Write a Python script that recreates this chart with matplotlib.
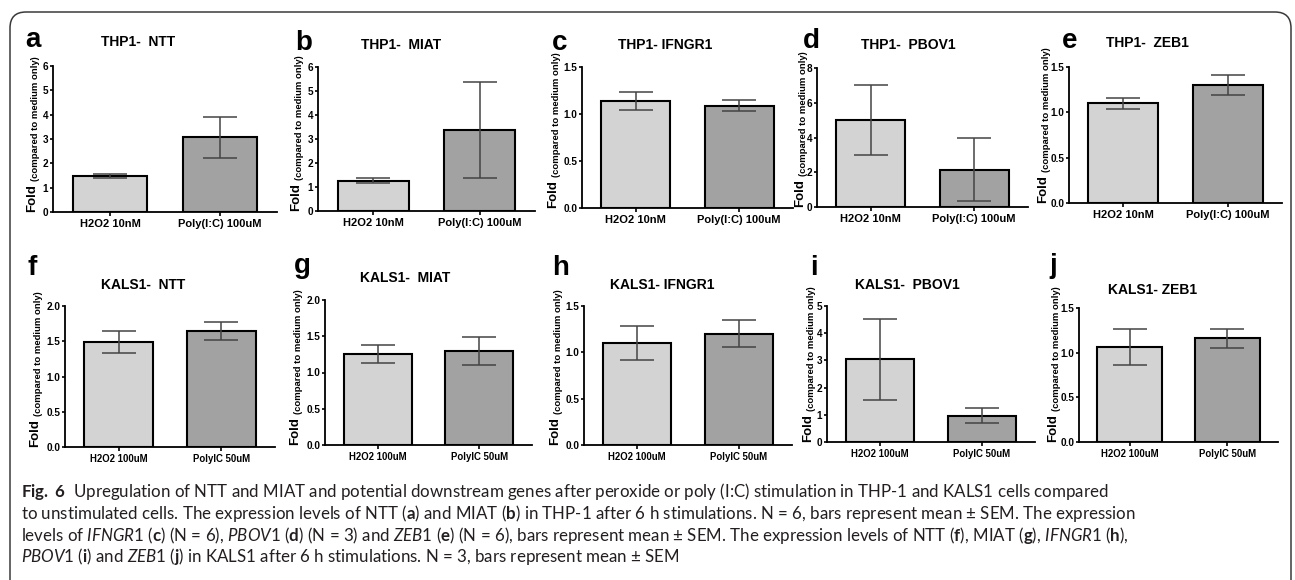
import numpy as np
import matplotlib
matplotlib.use("Agg")
import matplotlib.pyplot as plt
from matplotlib.patches import FancyBboxPatch
from matplotlib.transforms import IdentityTransform

# fonts
plt.rcParams['font.family'] = ['Liberation Sans', 'DejaVu Sans']
plt.rcParams['font.weight'] = 'bold'
plt.rcParams['mathtext.fontset'] = 'custom'
plt.rcParams['mathtext.rm'] = 'Lato:weight=normal'
plt.rcParams['mathtext.it'] = 'Lato:style=italic:weight=normal'
plt.rcParams['mathtext.bf'] = 'Lato:weight=bold'

# ---- data ----
letters = ['a', 'b', 'c', 'd', 'e', 'f', 'g', 'h', 'i', 'j']
titles = ['THP1-  NTT', 'THP1-  MIAT', 'THP1- IFNGR1', 'THP1-  PBOV1', 'THP1-  ZEB1',
          'KALS1-  NTT', 'KALS1-  MIAT', 'KALS1- IFNGR1', 'KALS1-  PBOV1', 'KALS1- ZEB1']
thp1_groups = ['H2O2 10nM', 'Poly(I:C) 100uM']
kals1_groups = ['H2O2 100uM', 'PolyIC 50uM']

fold_mean = [[1.48, 3.07], [1.27, 3.38], [1.14, 1.09], [5.00, 2.15], [1.10, 1.30],
             [1.49, 1.65], [1.26, 1.30], [1.10, 1.20], [3.05, 0.97], [1.06, 1.16]]
fold_sem = [[0.10, 0.85], [0.09, 2.00], [0.095, 0.055], [2.03, 1.80], [0.06, 0.11],
            [0.16, 0.13], [0.125, 0.19], [0.185, 0.145], [1.49, 0.265], [0.20, 0.105]]
y_max = [6, 6, 1.5, 8, 1.5, 2.0, 2.0, 1.5, 5, 1.5]
y_step = [1, 1, 0.5, 2, 0.5, 0.5, 0.5, 0.5, 1, 0.5]

# ---- layout in pixels of the 1295x580 picture ----
W, H = 1295, 580
# x0, x1, top, bottom of each axes box
boxes = [(53, 277, 66, 212), (318, 535, 67, 211), (582, 793, 67, 208), (817, 1028, 68, 207),
         (1069, 1282, 67, 203), (65, 275, 306, 447), (325, 532, 300, 445), (584, 792, 306, 445),
         (827, 1035, 306, 442), (1079, 1278, 308, 442)]
letter_pos = [(25, 47), (295, 50), (552, 50), (803, 48), (1062, 48),
              (27, 275), (294, 273), (552, 275), (810, 275), (1049, 273)]
title_pos = [(138, 42), (401, 45), (665, 45), (908, 45), (1147, 43),
             (143, 285), (405, 278), (662, 285), (907, 285), (1153, 290)]
label_x = [35, 299, 556, 803, 1046, 38, 298, 558, 811, 1056]

light = '#d3d3d3'
dark = '#a2a2a2'

fig = plt.figure(figsize=(W / 100, H / 100), dpi=100)

# rounded frame around the figure
frame = FancyBboxPatch((10, -30), 1281, 580 - 12 + 30,
                       boxstyle='round,pad=0,rounding_size=16',
                       transform=IdentityTransform(), facecolor='none',
                       edgecolor='#3a3a3a', linewidth=1.1)
fig.patches.append(frame)

for i in range(10):
    x0, x1, top, bot = boxes[i]
    ax = fig.add_axes([x0 / W, 1 - bot / H, (x1 - x0) / W, (bot - top) / H])
    x = np.arange(2)
    ax.bar(x, fold_mean[i], width=0.67, color=[light, dark],
           edgecolor='black', linewidth=1.5, zorder=2)
    ax.errorbar(x, fold_mean[i], yerr=fold_sem[i], fmt='none', ecolor='#444444',
                elinewidth=1.1, capsize=12, capthick=1.1, zorder=3)
    ax.set_xlim(-0.52, 1.52)
    ax.set_ylim(0, y_max[i])
    ticks = np.arange(0, y_max[i] + y_step[i] / 2, y_step[i])
    ax.set_yticks(ticks)
    if y_step[i] < 1:
        ax.set_yticklabels(['%.1f' % t for t in ticks])
    else:
        ax.set_yticklabels(['%d' % t for t in ticks])
    groups = thp1_groups if i < 5 else kals1_groups
    ax.set_xticks(x)
    ax.set_xticklabels(groups, fontsize=8 if i < 5 else 6.9)
    for s in ['top', 'right']:
        ax.spines[s].set_visible(False)
    for s in ['left', 'bottom']:
        ax.spines[s].set_linewidth(1.3)
    ax.tick_params(axis='y', length=2.5, width=1.2, labelsize=7.2, pad=1)
    ax.tick_params(axis='x', length=3, width=1.2, pad=2)
    ax.patch.set_alpha(0)

    # y label: "Fold" big, rest small
    lx = (label_x[i] - x0) / (x1 - x0)
    fold = ax.text(lx, 0, 'Fold', transform=ax.transAxes, rotation=90,
                   rotation_mode='anchor', ha='left', va='baseline', fontsize=9.5)
    ax.annotate('(compared to medium only)', xy=(1, 1), xycoords=fold,
                xytext=(0, 2.5), textcoords='offset points', rotation=90,
                rotation_mode='anchor', ha='left', va='baseline', fontsize=6.8)

    tx, ty = title_pos[i]
    fig.text(tx / W, 1 - ty / H, titles[i], ha='center', va='center', fontsize=10)
    lxp, lyp = letter_pos[i]
    fig.text(lxp / W, 1 - lyp / H, letters[i], ha='left', va='baseline', fontsize=20)

# caption
caption = [
    r"$\mathbf{Fig.\ 6}$  Upregulation of NTT and MIAT and potential downstream genes after peroxide or poly (I:C) stimulation in THP-1 and KALS1 cells compared",
    r"to unstimulated cells. The expression levels of NTT ($\mathbf{a}$) and MIAT ($\mathbf{b}$) in THP-1 after 6 h stimulations. N = 6, bars represent mean ± SEM. The expression",
    r"levels of $\mathit{IFNGR1}$ ($\mathbf{c}$) (N = 6), $\mathit{PBOV1}$ ($\mathbf{d}$) (N = 3) and $\mathit{ZEB1}$ ($\mathbf{e}$) (N = 6), bars represent mean ± SEM. The expression levels of NTT ($\mathbf{f}$), MIAT ($\mathbf{g}$), $\mathit{IFNGR1}$ ($\mathbf{h}$),",
    r"$\mathit{PBOV1}$ ($\mathbf{i}$) and $\mathit{ZEB1}$ ($\mathbf{j}$) in KALS1 after 6 h stimulations. N = 3, bars represent mean ± SEM",
]
baselines = [497, 519, 541, 562]
for line, yb in zip(caption, baselines):
    fig.text(21 / W, 1 - yb / H, line, ha='left', va='baseline', fontsize=12.2,
             family='Lato', fontweight='normal', color='#231f20')

fig.savefig('out.png', dpi=100)
